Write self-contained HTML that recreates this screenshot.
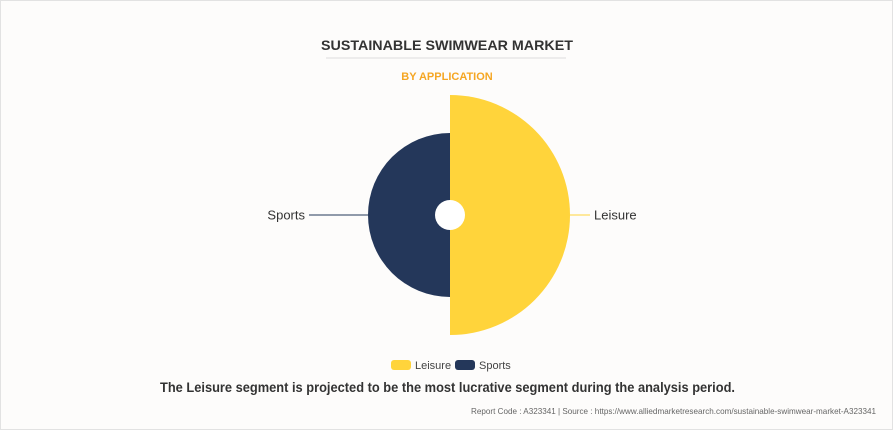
<!DOCTYPE html>
<html><head><meta charset="utf-8"><style>
html,body{margin:0;padding:0;background:#fff}
svg{display:block}
</style></head><body>
<svg width="893" height="430" xmlns="http://www.w3.org/2000/svg" font-family="Liberation Sans, sans-serif">
<rect x="0.5" y="0.5" width="892" height="429" fill="#fdfcfb" stroke="#e2e2e2"/>
<text x="447" y="50" text-anchor="middle" font-size="14" font-weight="bold" fill="#333" textLength="252" lengthAdjust="spacingAndGlyphs">SUSTAINABLE SWIMWEAR MARKET</text>
<line x1="326" y1="58" x2="566" y2="58" stroke="#ddd"/>
<text x="447" y="80" text-anchor="middle" font-size="11" font-weight="bold" fill="#f5a623">BY APPLICATION</text>
<path d="M450,95 A120,120 0 0 1 450,335 Z" fill="#ffd43b"/>
<path d="M450,133 A82,82 0 0 0 450,297 Z" fill="#24375a"/>
<circle cx="450" cy="215" r="15" fill="#fff"/>
<line x1="309" y1="215" x2="368" y2="215" stroke="#24375a"/>
<line x1="570" y1="215" x2="590" y2="215" stroke="#ffd43b"/>
<text x="305" y="219.5" text-anchor="end" font-size="13" fill="#333">Sports</text>
<text x="594" y="219.5" font-size="13" fill="#333">Leisure</text>
<rect x="391" y="360" width="20" height="10" rx="3" fill="#ffd43b"/>
<text x="415" y="369" font-size="11" fill="#444">Leisure</text>
<rect x="455" y="360" width="20" height="10" rx="3" fill="#24375a"/>
<text x="479" y="369" font-size="11" fill="#444">Sports</text>
<text x="160" y="392" font-size="13.5" font-weight="bold" fill="#333" textLength="575" lengthAdjust="spacingAndGlyphs">The Leisure segment is projected to be the most lucrative segment during the analysis period.</text>
<text x="876" y="414" text-anchor="end" font-size="8.5" fill="#666" textLength="405" lengthAdjust="spacingAndGlyphs">Report Code : A323341  |  Source : https://www.alliedmarketresearch.com/sustainable-swimwear-market-A323341</text>
</svg>
</body></html>
